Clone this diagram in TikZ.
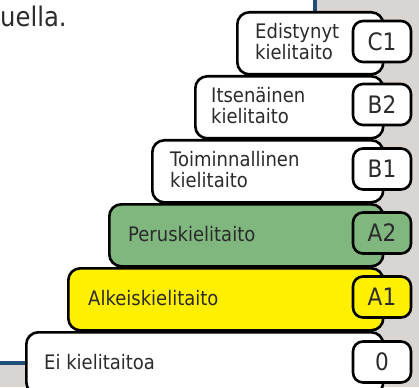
\documentclass[tikz,border=0pt]{standalone}
\usepackage{fontspec}
\setmainfont{DejaVu Sans}[FakeStretch=0.9]
\definecolor{bggray}{HTML}{D9D5D2}
\definecolor{lineblue}{HTML}{1F4E7A}
\definecolor{txt}{HTML}{2B2B2B}
\definecolor{lvlgreen}{HTML}{7FB77E}
\definecolor{lvlyellow}{HTML}{FFF000}
\begin{document}
\begin{tikzpicture}[x=1pt,y=-1pt,
  level/.style={draw=black, line width=2.6pt, rounded corners=12pt, anchor=north west,
    minimum height=62pt, inner sep=0pt},
  tag/.style={draw=black, line width=2.6pt, rounded corners=10pt, minimum width=58pt,
    minimum height=41pt, inner sep=0pt, font=\fontsize{24}{24}\selectfont, text=txt},
  lbl/.style={anchor=west, inner sep=0pt, align=left, font=\fontsize{20}{21}\selectfont, text=txt}]
\useasboundingbox (0,0) rectangle (419,387);
\clip (0,0) rectangle (419,387);
% background
\fill[bggray] (317,0) rectangle (419,387);
\fill[lineblue] (313,0) rectangle (317,20);
\fill[bggray] (0,365) rectangle (30,387);
\fill[lineblue] (0,361) rectangle (30,365);
\node[anchor=base west, inner sep=0pt, font=\fontsize{27}{27}\selectfont, text=txt] (head) at (0,27) {uella.};
% C1
\node[level, fill=white, minimum width=146pt] (c1box) at (236,11) {};
\node[lbl] (c1txt) at (255,42) {Edistynyt\\kielitaito};
\node[tag, fill=white] (c1tag) at (382,41.5) {C1};
% B2
\node[level, fill=white, minimum width=188pt] (b2box) at (194,75) {};
\node[lbl] (b2txt) at (211,106) {Itsenäinen\\kielitaito};
\node[tag, fill=white] (b2tag) at (382,104.5) {B2};
% B1
\node[level, fill=white, minimum width=231pt] (b1box) at (151,139) {};
\node[lbl] (b1txt) at (170,170) {Toiminnallinen\\kielitaito};
\node[tag, fill=white] (b1tag) at (382,169) {B1};
% A2
\node[level, fill=lvlgreen, minimum width=274pt] (a2box) at (108,203) {};
\node[lbl] (a2txt) at (128,234) {Peruskielitaito};
\node[tag, fill=lvlgreen] (a2tag) at (382,233) {A2};
% A1
\node[level, fill=lvlyellow, minimum width=315pt] (a1box) at (67,267) {};
\node[lbl] (a1txt) at (88,298) {Alkeiskielitaito};
\node[tag, fill=lvlyellow] (a1tag) at (382,297) {A1};
% 0
\node[level, fill=white, minimum width=357pt] (zbox) at (25,331) {};
\node[lbl] (ztxt) at (44,362) {Ei kielitaitoa};
\node[tag, fill=white] (ztag) at (382,362) {0};
\end{tikzpicture}
\end{document}
